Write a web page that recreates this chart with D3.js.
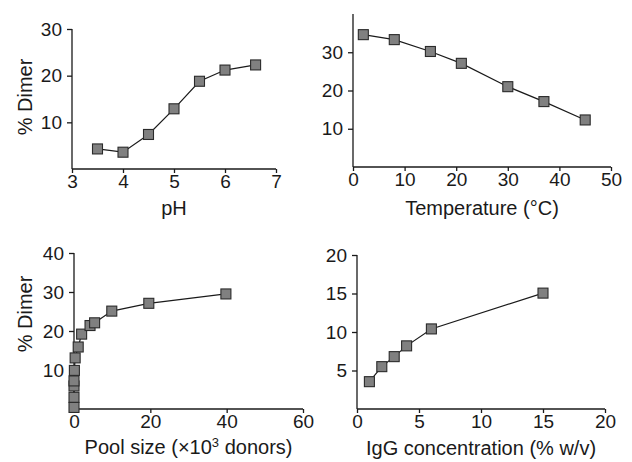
<!DOCTYPE html>
<html>
<head>
<meta charset="utf-8">
<script src="https://cdn.jsdelivr.net/npm/d3@7"></script>
<style>
  body { margin: 0; background: #fff; }
  svg text { font-family: "Liberation Sans", Arial, Helvetica, sans-serif; fill: #1a1a1a; }
  .axis path, .axis line { stroke: #1a1a1a; stroke-width: 1.3; }
  .axis text { font-size: 19px; }
  .line { fill: none; stroke: #1a1a1a; stroke-width: 1.2; }
  .pt { fill: #808080; stroke: #2a2a2a; stroke-width: 1.1; }
</style>
</head>
<body>
<div id="chart"></div>
<script>
// panel A: pH
var phX = [3.5, 4, 4.5, 5, 5.5, 6, 6.6];
var phY = [4.3, 3.6, 7.4, 12.9, 18.8, 21.2, 22.3];
var phXTicks = [3, 4, 5, 6, 7];
var phYTicks = [10, 20, 30];

// panel B: temperature
var tempX = [2, 8, 15, 21, 30, 37, 45];
var tempY = [34.6, 33.3, 30.2, 27.1, 21.0, 17.1, 12.3];
var tempXTicks = [0, 10, 20, 30, 40, 50];
var tempYTicks = [10, 20, 30];

// panel C: pool size
var poolX = [0, 0, 0, 0, 0.1, 0.3, 1.1, 2, 4.2, 5.4, 9.9, 19.6, 39.8];
var poolY = [0.4, 3, 5.9, 7.2, 9.9, 13.1, 15.9, 19.2, 21.4, 22.1, 25.1, 27.1, 29.5];
var poolXTicks = [0, 20, 40, 60];
var poolYTicks = [10, 20, 30, 40];

// panel D: IgG concentration
var iggX = [1, 2, 3, 4, 6, 15];
var iggY = [3.55, 5.5, 6.8, 8.2, 10.4, 15.05];
var iggXTicks = [0, 5, 10, 15, 20];
var iggYTicks = [5, 10, 15, 20];

var svg = d3.select("#chart").append("svg")
  .attr("width", 632)
  .attr("height", 462);

function drawPanel(p) {
  var xScale = d3.scaleLinear().domain(p.xDomain).range([p.left, p.right]);
  var yScale = d3.scaleLinear().domain(p.yDomain).range([p.bottom, p.top]);

  var g = svg.append("g");

  // x axis
  g.append("g")
    .attr("class", "axis")
    .attr("transform", "translate(0," + p.bottom + ")")
    .call(d3.axisBottom(xScale).tickValues(p.xTicks).tickSizeOuter(0).tickSize(4).tickPadding(2).tickFormat(d3.format("d")))
    .call(function(a) { a.select(".domain").attr("d", "M" + p.left + ",0H" + p.right); a.selectAll("text").attr("font-family", null).attr("font-size", null); });

  // y axis
  g.append("g")
    .attr("class", "axis")
    .attr("transform", "translate(" + p.left + ",0)")
    .call(d3.axisLeft(yScale).tickValues(p.yTicks).tickSizeOuter(0).tickSize(5).tickPadding(5).tickFormat(d3.format("d")))
    .call(function(a) { a.select(".domain").attr("d", "M0," + p.bottom + "V" + p.top); a.selectAll("text").attr("font-family", null).attr("font-size", null); });

  var data = p.x.map(function(d, i) { return {x: d, y: p.y[i]}; });

  var line = d3.line()
    .x(function(d) { return xScale(d.x); })
    .y(function(d) { return yScale(d.y); });

  g.append("path")
    .datum(data)
    .attr("class", "line")
    .attr("d", line);

  g.selectAll(".pt")
    .data(data)
    .enter().append("rect")
    .attr("class", "pt")
    .attr("x", function(d) { return xScale(d.x) - 5; })
    .attr("y", function(d) { return yScale(d.y) - 5; })
    .attr("width", 10)
    .attr("height", 10);

  // x title
  var xt = g.append("text")
    .attr("x", (p.left + p.right) / 2)
    .attr("y", p.xTitleY)
    .attr("text-anchor", "middle")
    .attr("font-size", "20px");
  p.xTitle(xt);

  if (p.yTitle) {
    g.append("text")
      .attr("transform", "translate(32," + p.yTitleY + ") rotate(-90)")
      .attr("text-anchor", "middle")
      .attr("font-size", "20px")
      .text(p.yTitle);
  }
}

drawPanel({
  x: phX, y: phY, xTicks: phXTicks, yTicks: phYTicks,
  xDomain: [3, 7], yDomain: [0, 30],
  left: 72, right: 276, top: 29, bottom: 169,
  xTitleY: 215, xTitle: function(t) { t.text("pH"); },
  yTitle: "% Dimer", yTitleY: 97
});

drawPanel({
  x: tempX, y: tempY, xTicks: tempXTicks, yTicks: tempYTicks,
  xDomain: [0, 50], yDomain: [0, 40],
  left: 353, right: 611, top: 14, bottom: 167,
  xTitleY: 215, xTitle: function(t) { t.text("Temperature (°C)"); }
});

drawPanel({
  x: poolX, y: poolY, xTicks: poolXTicks, yTicks: poolYTicks,
  xDomain: [0, 60], yDomain: [0, 40],
  left: 74, right: 303, top: 253, bottom: 409,
  xTitleY: 454, xTitle: function(t) {
    t.append("tspan").text("Pool size (×10");
    t.append("tspan").attr("dy", -7).attr("font-size", "13px").text("3");
    t.append("tspan").attr("dy", 7).text(" donors)");
  },
  yTitle: "% Dimer", yTitleY: 314
});

drawPanel({
  x: iggX, y: iggY, xTicks: iggXTicks, yTicks: iggYTicks,
  xDomain: [0, 20], yDomain: [0, 20],
  left: 357, right: 605, top: 255, bottom: 409,
  xTitleY: 455, xTitle: function(t) { t.text("IgG concentration (% w/v)"); }
});
</script>
</body>
</html>
